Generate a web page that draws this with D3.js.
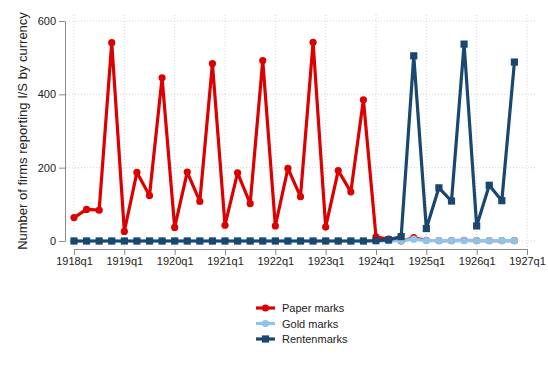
<!DOCTYPE html>
<html>
<head>
<meta charset="utf-8">
<script src="https://cdn.jsdelivr.net/npm/d3@7"></script>
<style>
  body { margin: 0; background: #fff; }
  svg { font-family: "Liberation Sans", Arial, sans-serif; }
  .grid line { stroke: #d4d4d4; stroke-width: 1; stroke-dasharray: 1,2; }
  .axis path, .axis line { stroke: #8a8a8a; }
  .axis text { font-size: 11px; fill: #222; }
</style>
</head>
<body>
<div id="vis"></div>
<script>
// frame size
const FRAME_WIDTH = 548;
const FRAME_HEIGHT = 366;

// quarters 1918q1 .. 1926q4
const quarters = [];
for (let y = 1918; y <= 1926; y++) {
  for (let q = 1; q <= 4; q++) quarters.push(y + "q" + q);
}

// tick labels on the x axis (every q1, index in quarters)
const xTickLabels = ["1918q1", "1919q1", "1920q1", "1921q1", "1922q1",
                     "1923q1", "1924q1", "1925q1", "1926q1", "1927q1"];
const yTicks = [0, 200, 400, 600];

// number of firms per currency, one value per quarter
const paperMarks = [64, 86, 84, 541,
                    26, 187, 124, 445,
                    37, 188, 108, 484,
                    43, 186, 102, 492,
                    41, 198, 121, 542,
                    38, 192, 134, 385,
                    11, 5, 0, 9,
                    2, 1, 1, 2,
                    1, 1, 1, 1];
const goldMarks = [0, 0, 0, 0,
                   0, 0, 0, 0,
                   0, 0, 0, 0,
                   0, 0, 0, 0,
                   0, 0, 0, 0,
                   0, 0, 0, 0,
                   0, 0, 1, 5,
                   1, 1, 1, 1,
                   1, 1, 1, 1];
const rentenmarks = [0, 0, 0, 0,
                     0, 0, 0, 0,
                     0, 0, 0, 0,
                     0, 0, 0, 0,
                     0, 0, 0, 0,
                     0, 0, 0, 0,
                     1, 3, 12, 505,
                     34, 145, 109, 537,
                     41, 152, 110, 488];

const seriesNames = ["Paper marks", "Gold marks", "Rentenmarks"];
const seriesColors = ["#dc0000", "#8ec4ea", "#1a476f"];
const seriesShapes = ["circle", "circle", "square"];
const seriesData = [paperMarks, goldMarks, rentenmarks];

const svg = d3.select("#vis")
  .append("svg")
    .attr("width", FRAME_WIDTH)
    .attr("height", FRAME_HEIGHT);

// scales: quarter index -> px, firms -> px
const X_SCALE = d3.scaleLinear().domain([0, 36]).range([74, 527]);
const Y_SCALE = d3.scaleLinear().domain([0, 600]).range([241, 21]);

// dotted grid
const grid = svg.append("g").attr("class", "grid");
grid.selectAll(".h").data(yTicks).enter().append("line")
  .attr("x1", 66).attr("x2", 535)
  .attr("y1", d => Y_SCALE(d)).attr("y2", d => Y_SCALE(d));
grid.selectAll(".v").data(xTickLabels).enter().append("line")
  .attr("x1", (d, i) => X_SCALE(i * 4)).attr("x2", (d, i) => X_SCALE(i * 4))
  .attr("y1", 15).attr("y2", 249);

// axes
svg.append("g")
  .attr("class", "axis")
  .attr("transform", "translate(65,0)")
  .call(d3.axisLeft(Y_SCALE).tickValues(yTicks).tickSize(6).tickSizeOuter(0).tickPadding(3));

svg.append("g")
  .attr("class", "axis")
  .attr("transform", "translate(0,249)")
  .call(d3.axisBottom(X_SCALE)
    .tickValues(xTickLabels.map((d, i) => i * 4))
    .tickFormat((d, i) => xTickLabels[i])
    .tickSize(6).tickSizeOuter(0).tickPadding(2));

// y axis title
svg.append("text")
  .attr("transform", "translate(27,131) rotate(-90)")
  .attr("text-anchor", "middle")
  .attr("font-size", "13px")
  .attr("fill", "#222")
  .text("Number of firms reporting I/S by currency");

const line = d3.line()
  .x((d, i) => X_SCALE(i))
  .y(d => Y_SCALE(d));

function drawMarker(g, shape, color, x, y) {
  if (shape === "square") {
    g.append("rect")
      .attr("x", x - 3.6).attr("y", y - 3.6)
      .attr("width", 7.2).attr("height", 7.2)
      .attr("fill", color);
  } else {
    g.append("circle")
      .attr("cx", x).attr("cy", y).attr("r", 3.6)
      .attr("fill", color);
  }
}

// series lines with markers
seriesData.forEach((vals, s) => {
  const g = svg.append("g");
  g.append("path")
    .datum(vals)
    .attr("d", line)
    .attr("fill", "none")
    .attr("stroke", seriesColors[s])
    .attr("stroke-width", 3.2)
    .attr("stroke-linejoin", "round");
  vals.forEach((v, i) => drawMarker(g, seriesShapes[s], seriesColors[s], X_SCALE(i), Y_SCALE(v)));
});

// legend
const legend = svg.append("g");
seriesNames.forEach((name, s) => {
  const y = 308 + s * 15.5;
  legend.append("line")
    .attr("x1", 256).attr("x2", 275)
    .attr("y1", y).attr("y2", y)
    .attr("stroke", seriesColors[s])
    .attr("stroke-width", 3.2);
  drawMarker(legend, seriesShapes[s], seriesColors[s], 265.5, y);
  legend.append("text")
    .attr("x", 282).attr("y", y + 4)
    .attr("font-size", "11px")
    .attr("fill", "#222")
    .text(name);
});
</script>
</body>
</html>
